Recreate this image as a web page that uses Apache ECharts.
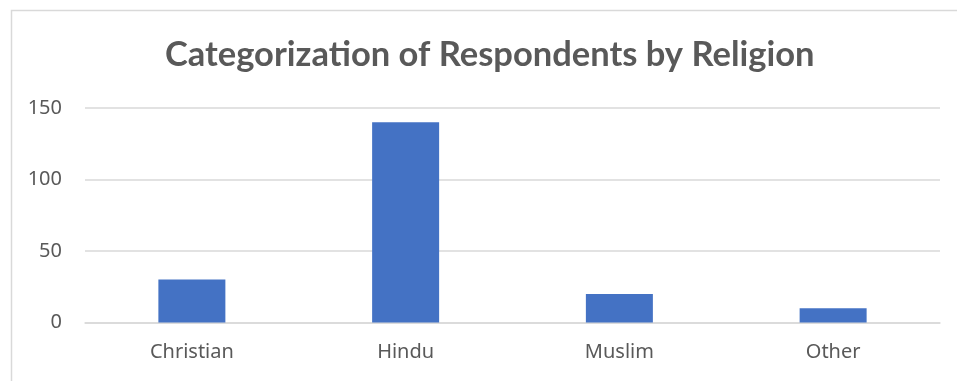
<!DOCTYPE html>
<html><head><meta charset="utf-8">
<script src="https://cdn.jsdelivr.net/npm/echarts@6/dist/echarts.min.js"></script>
<style>html,body{margin:0;padding:0;background:#fff}#c{width:957px;height:381px}</style>
</head><body><div id="c"></div>
<script>
const titleText = "Categorization of Respondents by Religion";
const categories = ["Christian", "Hindu", "Muslim", "Other"];
const respondents = [30, 140, 20, 10];
const yTicks = [0, 50, 100, 150];

const chart = echarts.init(document.getElementById('c'), null, {renderer: 'canvas'});
chart.setOption({
  animation: false,
  backgroundColor: '#fff',
  graphic: [{
    type: 'rect', left: 9, top: 8, shape: {width: 960, height: 390},
    style: {fill: 'none', stroke: '#d9d9d9', lineWidth: 1.5}, silent: true
  }],
  title: {
    text: titleText, left: 160, top: 32,
    textStyle: {fontFamily: 'Lato', fontWeight: 'bold', fontSize: 34.5, color: '#595959'}
  },
  grid: {left: 85, right: 17, top: 108, bottom: 58.5, containLabel: false},
  xAxis: {
    type: 'category', data: categories,
    axisLine: {show: true, lineStyle: {color: '#d9d9d9', width: 1.5}},
    axisTick: {show: false},
    axisLabel: {color: '#595959', fontFamily: 'Noto Sans', fontSize: 20, margin: 20}
  },
  yAxis: {
    type: 'value', min: yTicks[0], max: yTicks[yTicks.length - 1], interval: 50,
    axisLine: {show: false}, axisTick: {show: false},
    splitLine: {lineStyle: {color: '#d9d9d9', width: 1.5}},
    axisLabel: {color: '#595959', fontFamily: 'Noto Sans', fontSize: 20, margin: 23}
  },
  series: [{
    type: 'bar', data: respondents, barWidth: 67,
    itemStyle: {color: '#4472C4'}
  }]
});
</script></body></html>
